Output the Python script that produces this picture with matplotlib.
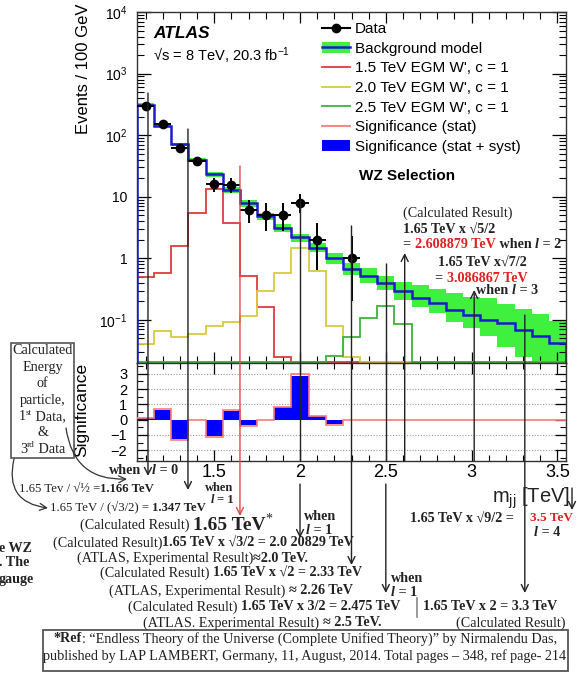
import numpy as np
import matplotlib
matplotlib.use('Agg')
import matplotlib.pyplot as plt
from matplotlib.lines import Line2D
from matplotlib.patches import Patch, Rectangle, FancyArrowPatch
from matplotlib.ticker import FixedLocator, MultipleLocator, NullFormatter, FixedFormatter

plt.rcParams['font.family'] = ['Liberation Sans', 'DejaVu Sans']
plt.rcParams['mathtext.fontset'] = 'custom'
plt.rcParams['mathtext.rm'] = 'Liberation Sans'
plt.rcParams['mathtext.it'] = 'Liberation Sans:italic'
plt.rcParams['mathtext.bf'] = 'Liberation Sans:bold'

# ---------------- data ----------------
bin_edges = [1.05, 1.15, 1.25, 1.35, 1.45, 1.55, 1.65, 1.75, 1.85, 1.95, 2.05, 2.15, 2.25,
             2.35, 2.45, 2.55, 2.65, 2.75, 2.85, 2.95, 3.05, 3.15, 3.25, 3.35, 3.45, 3.55]
data_x = [1.1, 1.2, 1.3, 1.4, 1.5, 1.6, 1.7, 1.8, 1.9, 2.0, 2.1, 2.3]
data_y = [300, 150, 61, 38, 16, 15.5, 6, 5, 5, 8, 2, 1]
data_lo = [283, 138, 53, 32, 12, 11.5, 3.7, 2.8, 2.8, 5.5, 0.65, 0.2]
data_hi = [317, 163, 70, 45, 20.5, 20, 8.9, 7.9, 7.9, 11.2, 3.7, 2.3]
bkg = [310, 142, 71, 40, 23, 13, 7.8, 4.8, 3.1, 2.2, 1.5, 1.0, 0.68, 0.52, 0.40,
       0.29, 0.23, 0.185, 0.145, 0.12, 0.10, 0.088, 0.068, 0.055, 0.042]
band_up = [1.06, 1.06, 1.07, 1.08, 1.10, 1.10, 1.12, 1.13, 1.18, 1.13, 1.20, 1.24, 1.24,
           1.33, 1.28, 1.45, 1.60, 1.75, 1.87, 1.98, 2.25, 2.10, 2.25, 2.25, 2.30]
band_dn = [0.94, 0.94, 0.93, 0.92, 0.90, 0.90, 0.88, 0.86, 0.88, 0.83, 0.83, 0.80, 0.80,
           0.76, 0.78, 0.73, 0.71, 0.69, 0.65, 0.61, 0.54, 0.42, 0.37, 0.35, 0.32]
sig_15 = [0.5, 0.58, 1.6, 5.4, 13.5, 3.8, 0.52, 0.16, 0.025, 0, 0, 0, 0,
          0, 0, 0, 0, 0, 0, 0, 0, 0, 0, 0, 0]
sig_20 = [0.04, 0.066, 0.052, 0.06, 0.08, 0.092, 0.115, 0.3, 0.58, 1.45, 0.62, 0.08, 0.025,
          0, 0, 0, 0, 0, 0, 0, 0, 0, 0, 0, 0]
sig_25 = [0, 0, 0, 0, 0, 0, 0, 0, 0, 0, 0, 0.026, 0.053,
          0.108, 0.17, 0.086, 0, 0, 0, 0, 0, 0, 0, 0, 0]
signif_syst = [0.1, 0.65, -1.25, 0, -1.05, 0.55, -0.35, 0, 0.8, 2.85, 0.22, -0.3, 0,
               0, 0, 0, 0, 0, 0, 0, 0, 0, 0, 0, 0]
signif_stat = [0.1, 0.7, -1.32, 0, -1.1, 0.6, -0.4, 0, 0.85, 3.0, 0.25, -0.35, 0,
               0, 0, 0, 0, 0, 0, 0, 0, 0, 0, 0, 0]
x_ticks = [1.5, 2, 2.5, 3, 3.5]
x_ticklabels = ['1.5', '2', '2.5', '3', '3.5']
y_ticks = [0.1, 1, 10, 100, 1000, 10000]
y_ticklabels = ['$10^{-1}$', '1', '10', '$10^{2}$', '$10^{3}$', '$10^{4}$']
sig_ticks = [-2, -1, 0, 1, 2, 3]
sig_ticklabels = ['\u22122', '\u22121', '0', '1', '2', '3']

# annotation vertical lines (TeV positions)
ann_tev = [1.114, 1.347, 1.65, 2.0, 2.3, 2.5, 2.61, 3.015, 3.31, 3.585]

W, H = 577, 674
fig = plt.figure(figsize=(W / 100, H / 100), dpi=100)
fig.patch.set_facecolor('white')

L, R = 137, 566
ax = fig.add_axes([L / W, 1 - 363 / H, (R - L) / W, 351 / H])
axr = fig.add_axes([L / W, 1 - 461 / H, (R - L) / W, 98 / H])

edges = np.array(bin_edges)
bkg_a = np.array(bkg)
ymin = 0.02
floor = ymin * 1.02

c_band = '#3ff03f'
c_blue = '#1a1ad0'
c_red = '#e03a3a'
c_yel = '#d8cc3a'
c_grn = '#3cb43c'
c_pink = '#ff7a7a'

lo = np.append(bkg_a * np.array(band_dn), bkg_a[-1] * band_dn[-1])
hi = np.append(bkg_a * np.array(band_up), bkg_a[-1] * band_up[-1])
ax.fill_between(edges, lo, hi, step='post', color=c_band, lw=0, zorder=1)
ax.stairs(bkg_a, edges, color=c_blue, lw=1.8, zorder=3)
for vals, col in [(sig_15, c_red), (sig_20, c_yel), (sig_25, c_grn)]:
    v = np.array(vals, dtype=float)
    v = np.where(v > 0, v, floor)
    ax.stairs(v, edges, color=col, lw=1.3, zorder=2)

dy = np.array(data_y)
ax.errorbar(data_x, dy, yerr=[dy - np.array(data_lo), np.array(data_hi) - dy], xerr=0.05,
            fmt='o', color='k', ms=6, lw=1.4, capsize=0, zorder=5)

ax.set_yscale('log')
ax.set_ylim(ymin, 1e4)
ax.set_xlim(edges[0], edges[-1])
ax.yaxis.set_major_locator(FixedLocator(y_ticks))
ax.yaxis.set_major_formatter(FixedFormatter(y_ticklabels))
minor = [m * 10.0 ** e for e in range(-2, 4) for m in range(2, 10)]
ax.yaxis.set_minor_locator(FixedLocator(minor))
ax.yaxis.set_minor_formatter(NullFormatter())
ax.xaxis.set_major_locator(FixedLocator(x_ticks))
ax.xaxis.set_minor_locator(MultipleLocator(0.1))
ax.set_xticklabels([])
ax.tick_params(which='both', direction='in', top=True, right=True, labelsize=10, pad=7)
ax.tick_params(which='major', length=10, width=0.9)
ax.tick_params(which='minor', length=5, width=0.8)
ax.tick_params(axis='x', which='major', length=8)

# significance panel
for g in [-2, -1, 1, 2, 3]:
    axr.axhline(g, color='#999999', lw=0.8, ls=(0, (1, 1.5)), zorder=0)
axr.bar(np.array(bin_edges[:-1]) + 0.05, signif_syst, width=0.1, color='#0000ff', lw=0, zorder=2)
axr.stairs(signif_stat, edges, color=c_pink, lw=1.2, baseline=None, zorder=3)
axr.set_xlim(edges[0], edges[-1])
axr.set_ylim(-2.7, 3.7)
axr.xaxis.set_major_locator(FixedLocator(x_ticks))
axr.xaxis.set_major_formatter(FixedFormatter(x_ticklabels))
axr.xaxis.set_minor_locator(MultipleLocator(0.1))
axr.yaxis.set_major_locator(FixedLocator(sig_ticks))
axr.yaxis.set_major_formatter(FixedFormatter(sig_ticklabels))
axr.yaxis.set_minor_locator(MultipleLocator(0.5))
axr.tick_params(which='both', direction='in', top=True, right=True)
axr.tick_params(which='major', length=8, width=0.9)
axr.tick_params(which='minor', length=4, width=0.8)
axr.tick_params(axis='x', labelsize=13, pad=2)
axr.tick_params(axis='y', labelsize=10.5, pad=7)

for a in (ax, axr):
    for s in a.spines.values():
        s.set_linewidth(1.0)
        s.set_color('#333333')

fig.text(84 / W, 1 - 4 / H, 'Events / 100 GeV', rotation=90, ha='center', va='top', fontsize=12)
fig.text(82 / W, 1 - 410 / H, 'Significance', rotation=90, ha='center', va='center', fontsize=12.5)

# texts in main panel
fig.text(153 / W, 1 - 33 / H, 'ATLAS', fontsize=12.5, fontweight='bold', style='italic',
         ha='left', va='center')
fig.text(153 / W, 1 - 56 / H, '\u221as = 8 TeV, 20.3 fb$^{-1}$', fontsize=10.5,
         ha='left', va='center')
fig.text(359 / W, 1 - 176 / H, 'WZ Selection', fontsize=11, fontweight='bold',
         ha='left', va='center')

handles = [Line2D([], [], marker='o', color='k', lw=1.5, ms=6),
           (Patch(facecolor=c_band, lw=0), Line2D([], [], color=c_blue, lw=1.8)),
           Line2D([], [], color=c_red, lw=1.3),
           Line2D([], [], color=c_yel, lw=1.3),
           Line2D([], [], color=c_grn, lw=1.3),
           Line2D([], [], color=c_pink, lw=1.3),
           Patch(facecolor='#0000ff', lw=0)]
labels = ['Data', 'Background model', "1.5 TeV EGM W', c = 1", "2.0 TeV EGM W', c = 1",
          "2.5 TeV EGM W', c = 1", 'Significance (stat)', 'Significance (stat + syst)']
fig.legend(handles, labels, loc='upper left', bbox_to_anchor=(322 / W, 1 - 22 / H),
           frameon=False, fontsize=11, handlelength=1.85, handletextpad=0.3,
           labelspacing=0.37, borderpad=0, borderaxespad=0, numpoints=1)

# ---------------- overlay annotations (pixel coordinates) ----------------
ov = fig.add_axes([0, 0, 1, 1], zorder=10)
ov.set_xlim(0, W)
ov.set_ylim(H, 0)
ov.axis('off')
ov.patch.set_alpha(0)


def tev2px(t):
    return L + (t - edges[0]) / (edges[-1] - edges[0]) * (R - L)


def vline(t, y0, y1, color='#222222', arrow=None):
    x = tev2px(t)
    if arrow is None:
        ov.plot([x, x], [y0, y1], color=color, lw=1.0, solid_capstyle='butt')
    else:
        start, end = ((x, y0), (x, y1)) if arrow == 'down' else ((x, y1), (x, y0))
        ov.add_patch(FancyArrowPatch(start, end, arrowstyle='->,head_length=0.5,head_width=0.25',
                                     mutation_scale=10, color=color, lw=1.0,
                                     shrinkA=0, shrinkB=0))


vline(ann_tev[0], 93, 476, arrow='down')
vline(ann_tev[1], 129, 490, arrow='down')
vline(ann_tev[2], 166, 516, color='#e04848', arrow='down')
vline(ann_tev[3], 200, 461)
vline(ann_tev[3], 484, 538, arrow='down')
vline(ann_tev[4], 226, 565, arrow='down')
vline(ann_tev[5], 263, 461)
vline(ann_tev[5], 484, 593, arrow='down')
vline(ann_tev[6], 253, 461, arrow='up')
vline(ann_tev[7], 290, 461, arrow='up')
vline(ann_tev[8], 315, 593, arrow='down')
vline(ann_tev[9], 488, 510, arrow='down')
ov.plot([417, 417], [598, 617], color='#888888', lw=1.2)

renderer = fig.canvas.get_renderer()
SER = ['Liberation Serif', 'DejaVu Serif']
FS = 10.2


def seq(x, y, parts, ha='left'):
    objs, widths = [], []
    for s, kw in parts:
        kw = dict(kw)
        d = kw.pop('dy', 0)
        kw.setdefault('fontsize', FS)
        kw.setdefault('family', SER)
        kw.setdefault('color', '#222222')
        t = ov.text(0, y + d, s, va='center', ha='left', **kw)
        objs.append(t)
        widths.append(t.get_window_extent(renderer).width)
    total = sum(widths)
    x0 = x - total / 2 if ha == 'center' else (x - total if ha == 'right' else x)
    for t, w in zip(objs, widths):
        t.set_x(x0)
        x0 += w


N = {}
B = {'fontweight': 'bold'}
RB = {'fontweight': 'bold', 'color': '#e02020'}
IB = {'fontweight': 'bold', 'style': 'italic'}
S9 = {'fontsize': 9.2}
B9 = {'fontweight': 'bold', 'fontsize': 9.2}

# right-middle annotations
seq(403, 213, [('(Calculated Result)', N)])
seq(403, 230, [('1.65 TeV x \u221a5/2', B)])
seq(403, 245, [('= ', B), ('2.608879 TeV', RB), (' when ', B), ('l', IB), (' = 2', B)])
seq(438, 263, [('1.65 TeV x\u221a7/2', B)])
seq(435, 278, [('= ', B), ('3.086867 TeV', RB)])
seq(476, 291, [('when ', B), ('l', IB), (' = 3', B)])

# bottom-left annotations
seq(141, 471, [('when', B)], ha='right')
seq(152, 471, [('l', IB), (' = 0', B)])
seq(19, 489, [('1.65 Tev / \u221a\u00bd =', S9), ('1.166 TeV', B9)])
seq(219, 488, [('when', dict(B, fontsize=9))], ha='center')
seq(222, 500, [('l', dict(IB, fontsize=9)), (' = 1', dict(B, fontsize=9))], ha='center')
seq(50, 508, [('1.65 TeV / (\u221a3/2) = ', S9), ('1.347 TeV', B9)])
seq(80, 525, [('(Calculated Result) ', N), ('1.65 TeV', dict(B, fontsize=14)),
              ('*', dict(N, fontsize=10, dy=-6))])
seq(304, 517, [('when', B)])
seq(306, 531, [('l', IB), (' = 1', B)])
seq(53, 543, [('(Calculated Result)', N), ('1.65 TeV x \u221a3/2 = 2.0 20829 TeV', B)])
seq(77, 558, [('(ATLAS, Experimental Result)', N), ('\u22482.0 TeV.', B)])
seq(100, 573, [('(Calculated Result) ', N), ('1.65 TeV x \u221a2 = 2.33 TeV', B)])
seq(109, 591, [('(ATLAS, Experimental Result) ', N), ('\u2248 2.26 TeV', B)])
seq(391, 578, [('when', B)])
seq(391, 593, [('l', IB), (' = 1', B)])
seq(128, 607, [('(Calculated Result) ', N), ('1.65 TeV x 3/2 = 2.475 TeV', B)])
seq(423, 607, [('1.65 TeV x 2 = 3.3 TeV', B)])
seq(143, 623, [('(ATLAS. Experimental Result) ', N), ('\u2248 2.5 TeV.', B)])
seq(456, 623, [('(Calculated Result)', N)])
seq(410, 519, [('1.65 TeV x \u221a9/2 = ', B)])
seq(530, 518, [('3.5 TeV', dict(RB, fontsize=9.5))])
seq(547, 533, [('l', IB), (' = 4', B)], ha='center')
ov.text(570, 498, 'm$_{\\rm jj}$ [TeV]', fontsize=14.5, ha='right', va='center', color='#222222')

# left cut-off text
for yy, s in [(548, 'e WZ'), (563, '. The'), (579, 'gauge')]:
    ov.text(-1, yy, s, family=SER, fontweight='bold', fontsize=FS, ha='left', va='center',
            color='#222222')

# left box
ov.add_patch(Rectangle((11, 343), 63, 115, fill=False, ec='#555555', lw=1.2))
box_lines = [[('Calculated', N)], [('Energy', N)], [('of', N)], [('particle,', N)],
             [('1', N), ('st', dict(N, fontsize=6.5, dy=-4)), (' Data,', N)],
             [('&', N)],
             [('3', N), ('rd', dict(N, fontsize=6.5, dy=-4)), (' Data', N)]]
for i, parts in enumerate(box_lines):
    seq(42.5, 351 + i * 16.4, parts, ha='center')

ov.add_patch(FancyArrowPatch((14, 459), (48, 508), connectionstyle='arc3,rad=0.55',
                             arrowstyle='->,head_length=0.5,head_width=0.25', mutation_scale=10,
                             color='#333333', lw=0.9, shrinkA=0, shrinkB=0))
ov.add_patch(FancyArrowPatch((66, 428), (127, 479), connectionstyle='arc3,rad=0.45',
                             arrowstyle='->,head_length=0.5,head_width=0.25', mutation_scale=10,
                             color='#333333', lw=0.9, shrinkA=0, shrinkB=0))

# reference box
ov.add_patch(Rectangle((43, 630), 525, 41, fill=False, ec='#555555', lw=1.3))
seq(305, 639, [('*Ref', B), (': \u201cEndless Theory of the Universe (Complete Unified Theory)\u201d by Nirmalendu Das,', N)],
    ha='center')
seq(305, 656, [('published by LAP LAMBERT, Germany, 11, August, 2014. Total pages \u2013 348, ref page- 214', N)],
    ha='center')

fig.savefig('out.png', dpi=100)
